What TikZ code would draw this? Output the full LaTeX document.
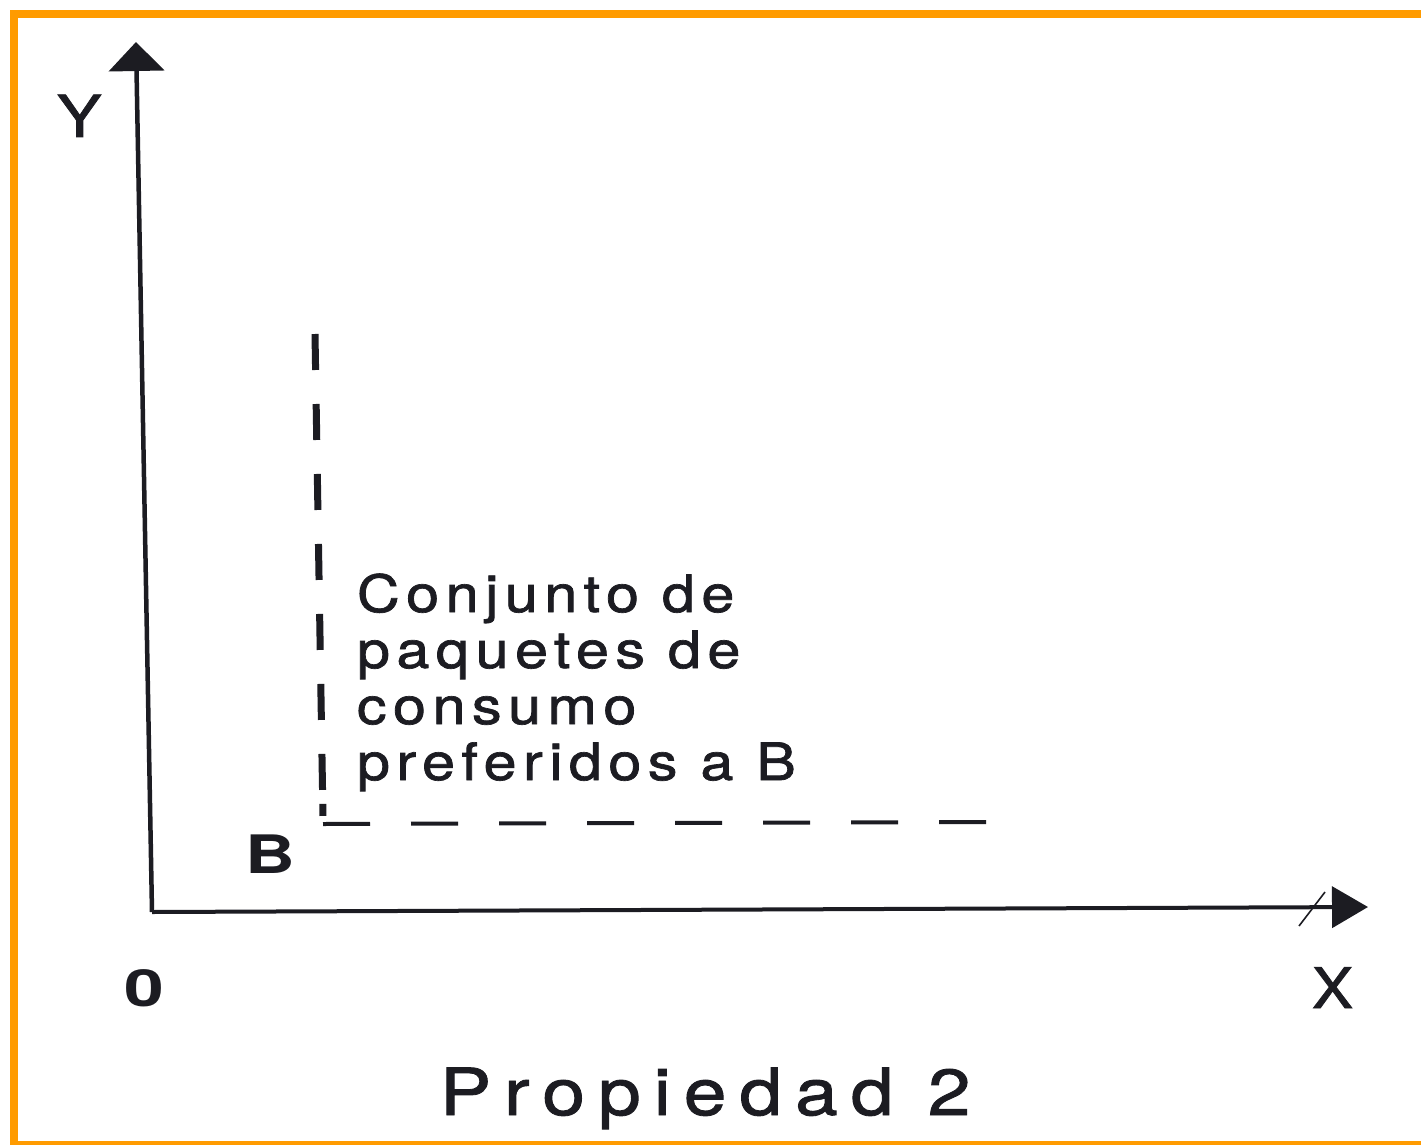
\documentclass[tikz,border=0pt]{standalone}
\usepackage{graphicx}
\usepackage{fontspec}
\setmainfont{TeX Gyre Heros}
\newfontfamily\plainF[FakeBold=1.3]{TeX Gyre Heros}
\newfontfamily\spacedA[LetterSpace=11,FakeBold=1.3]{TeX Gyre Heros}
\newfontfamily\spacedB[LetterSpace=17,FakeBold=1.3]{TeX Gyre Heros}
\usetikzlibrary{arrows.meta,calc}
\definecolor{frame}{RGB}{255,155,0}
\definecolor{ink}{RGB}{28,28,34}
\newcommand{\wide}[2]{\scalebox{#1}[1]{#2}}
\begin{document}
\begin{tikzpicture}[x=1pt,y=-1pt,
  lbl/.style={inner sep=0pt,outer sep=0pt,anchor=base west,text=ink},
  txt/.style={lbl,font=\spacedA\fontsize{51.5}{56}\selectfont},
  axis/.style={draw=ink,line width=4.5pt}]
\useasboundingbox (0,0) rectangle (1421,1145);
\fill[white] (0,0) rectangle (1421,1145);
% orange frame
\fill[frame] (10,10) rectangle (18,1145);
\fill[frame] (10,10) rectangle (1421,18);
\fill[frame] (10,1141) rectangle (1421,1145);
% coordinates
\coordinate (O) at (152,912);
\coordinate (Ytop) at (136,42);
\coordinate (Xtip) at (1368,907);
\coordinate (V0) at (315,334);
\coordinate (C) at (323,824);
\coordinate (Cv) at (323,818);
\coordinate (H1) at (987,822);
% axes
\draw[axis,-{Triangle[width=55pt,length=29pt]}] (O) -- (Ytop);
\draw[axis,line width=4pt,-{Triangle[width=41pt,length=36pt]}] (O) -- (Xtip);
\coordinate (s1) at (1325,892);
\coordinate (s2) at (1299,926);
\draw[ink,line width=1.6pt] (s1) -- (s2);
% dashed boundaries
\draw[ink,line width=7pt,dash pattern=on 36pt off 34pt on 36pt off 34pt on 36pt off 34pt on 36pt off 34pt on 36pt off 34pt on 36pt off 34pt on 36pt off 14pt on 12pt off 40pt] (V0) -- (Cv);
\draw[ink,line width=4pt,dash pattern=on 47pt off 41pt] (C) -- (H1);
% labels
\node[lbl,font=\plainF\fontsize{58}{60}\selectfont] (ylab) at (57,137) {\wide{1.15}{Y}};
\node[lbl,font=\plainF\fontsize{56}{60}\selectfont] (xlab) at (1312,1008) {\wide{1.1}{X}};
\node[lbl,font=\bfseries\fontsize{51}{56}\selectfont] (zero) at (124,1006) {\wide{1.4}{0}};
\node[lbl,font=\bfseries\fontsize{53}{56}\selectfont] (blab) at (245,873) {\wide{1.3}{B}};
\node[txt] (t1) at (357,612) {\wide{1.15}{Conjunto de}};
\node[txt] (t2) at (357,668) {\wide{1.15}{paquetes de}};
\node[txt] (t3) at (357,724) {\wide{1.15}{consumo}};
\node[txt] (t4) at (357,780) {\wide{1.15}{preferidos a B}};
\node[lbl,font=\spacedB\fontsize{65}{70}\selectfont] (title) at (440,1115) {\wide{1.18}{Propiedad 2}};
\end{tikzpicture}
\end{document}
